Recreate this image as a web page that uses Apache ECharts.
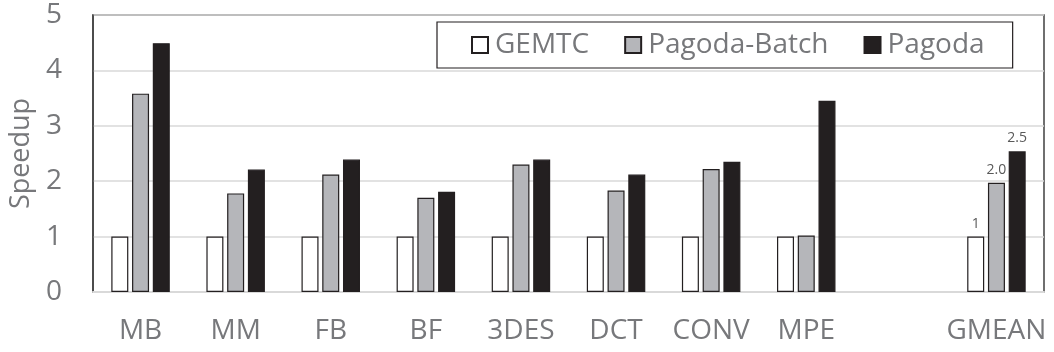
<!DOCTYPE html>
<html>
<head>
<meta charset="utf-8">
<script src="https://cdn.jsdelivr.net/npm/echarts@6/dist/echarts.min.js"></script>
<style>html,body{margin:0;padding:0;background:#fff}#c{width:1054px;height:352px}</style>
</head>
<body>
<div id="c"></div>
<script>
const categories = ['MB', 'MM', 'FB', 'BF', '3DES', 'DCT', 'CONV', 'MPE', '', 'GMEAN'];
const gemtc = [1, 1, 1, 1, 1, 1, 1, 1, null, 1];
const pagodaBatch = [3.58, 1.78, 2.12, 1.70, 2.30, 1.83, 2.22, 1.02, null, 1.97];
const pagoda = [4.49, 2.21, 2.39, 1.81, 2.39, 2.12, 2.35, 3.45, null, 2.54];
const gmeanLabels = ['1', '2.0', '2.5'];
const yTicks = [0, 1, 2, 3, 4, 5];

const FONT = 'Open Sans';
const TXT = '#77787b';
const gmeanIdx = categories.indexOf('GMEAN');

function mkSeries(name, data, color, labelText) {
  return {
    name: name,
    type: 'bar',
    data: data.map((v, i) => i === gmeanIdx ? {
      value: v,
      label: { show: true, position: 'top', distance: 6, formatter: labelText,
               fontFamily: FONT, fontSize: 14, color: '#595959' }
    } : v),
    barWidth: 17,
    barGap: '22%',
    itemStyle: { color: color, borderColor: '#231f20', borderWidth: 1.2 },
    emphasis: { disabled: true }
  };
}

const chart = echarts.init(document.getElementById('c'), null, { renderer: 'canvas' });
chart.setOption({
  animation: false,
  backgroundColor: '#fff',
  grid: { left: 87, right: 10, top: 15, bottom: 60, show: true,
          borderColor: '#404040', borderWidth: 1.5, backgroundColor: 'transparent' },
  legend: {
    left: 437, top: 22,
    backgroundColor: '#fff',
    borderColor: '#231f20', borderWidth: 1.2,
    padding: [9, 28, 9, 34],
    itemGap: 35, itemWidth: 16, itemHeight: 16,
    icon: 'rect',
    textStyle: { fontFamily: FONT, fontSize: 28, color: TXT, padding: [0, 0, 0, 2] },
    data: ['GEMTC', 'Pagoda-Batch', 'Pagoda']
  },
  xAxis: {
    type: 'category',
    data: categories,
    axisTick: { show: false },
    axisLine: { show: true, lineStyle: { color: '#d9d9d9', width: 2 } },
    axisLabel: { fontFamily: FONT, fontSize: 28, color: TXT, margin: 25, interval: 0 }
  },
  yAxis: {
    type: 'value',
    min: yTicks[0], max: yTicks[yTicks.length - 1], interval: 1,
    name: 'Speedup',
    nameLocation: 'middle',
    nameGap: 58,
    nameTextStyle: { fontFamily: FONT, fontSize: 27, color: TXT },
    axisLine: { show: true, lineStyle: { color: '#404040', width: 1.5 } },
    axisTick: { show: false },
    splitLine: { show: true, lineStyle: { color: '#d9d9d9', width: 1.5 } },
    axisLabel: { fontFamily: FONT, fontSize: 28, color: TXT, margin: 31 }
  },
  series: [
    mkSeries('GEMTC', gemtc, '#ffffff', gmeanLabels[0]),
    mkSeries('Pagoda-Batch', pagodaBatch, '#b5b6ba', gmeanLabels[1]),
    mkSeries('Pagoda', pagoda, '#231f20', gmeanLabels[2])
  ]
});
</script>
</body>
</html>
